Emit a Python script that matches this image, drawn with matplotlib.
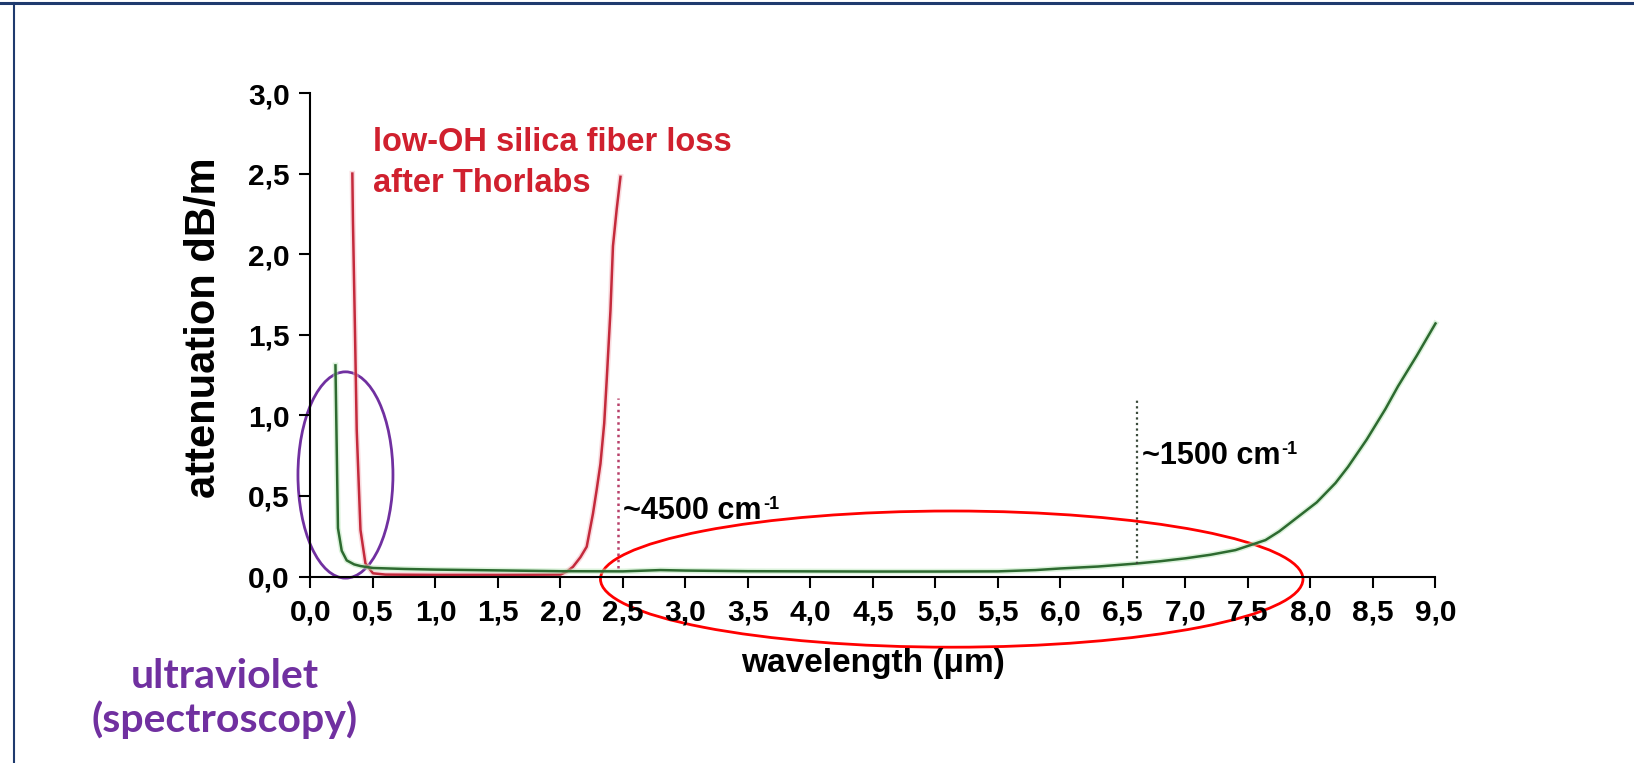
import matplotlib
matplotlib.use("Agg")
import matplotlib.pyplot as plt
import matplotlib.patheffects as pe
from matplotlib.patches import Ellipse
from matplotlib.lines import Line2D


# low-OH silica fibre loss (Thorlabs)
red_wavelength = [0.335, 0.34, 0.356, 0.37, 0.40, 0.44, 0.50, 0.60, 1.0, 1.5,
                  2.0, 2.05, 2.10, 2.16, 2.21, 2.26, 2.29, 2.32, 2.35, 2.37,
                  2.40, 2.42, 2.45, 2.48]
red_loss = [2.50, 2.20, 1.53, 0.91, 0.29, 0.08, 0.02, 0.012, 0.010, 0.010,
            0.012, 0.03, 0.06, 0.12, 0.185, 0.39, 0.54, 0.70, 0.95, 1.22,
            1.65, 2.05, 2.28, 2.48]

# second fibre (green curve)
green_wavelength = [0.20, 0.21, 0.22, 0.25, 0.29, 0.35, 0.40, 0.50, 0.75, 1.0,
                    1.5, 2.0, 2.5, 2.8, 3.0, 3.5, 4.0, 4.5, 5.0, 5.5, 5.8,
                    6.0, 6.3, 6.6, 6.8, 7.0, 7.2, 7.4, 7.64, 7.75, 7.9, 8.05,
                    8.2, 8.3, 8.45, 8.6, 8.7, 8.85, 9.0]
green_loss = [1.31, 0.80, 0.30, 0.16, 0.10, 0.075, 0.065, 0.053, 0.047, 0.043,
              0.038, 0.033, 0.032, 0.040, 0.037, 0.033, 0.032, 0.031, 0.031,
              0.032, 0.040, 0.050, 0.062, 0.080, 0.095, 0.113, 0.135, 0.164,
              0.226, 0.28, 0.37, 0.46, 0.58, 0.68, 0.85, 1.04, 1.18, 1.37,
              1.57]

# dotted markers at the wavenumber limits
marker_x = [2.46, 6.61]
marker_bottom = [0.05, 0.08]
marker_top = [1.11, 1.11]
marker_labels = ["~4500 cm", "~1500 cm"]

x_ticks = [0.0, 0.5, 1.0, 1.5, 2.0, 2.5, 3.0, 3.5, 4.0, 4.5, 5.0, 5.5, 6.0,
           6.5, 7.0, 7.5, 8.0, 8.5, 9.0]
x_tick_labels = ["0,0", "0,5", "1,0", "1,5", "2,0", "2,5", "3,0", "3,5", "4,0",
                 "4,5", "5,0", "5,5", "6,0", "6,5", "7,0", "7,5", "8,0", "8,5",
                 "9,0"]
y_ticks = [0.0, 0.5, 1.0, 1.5, 2.0, 2.5, 3.0]
y_tick_labels = ["0,0", "0,5", "1,0", "1,5", "2,0", "2,5", "3,0"]

RED_LINE = "#c42a3c"
GREEN_LINE = "#2d6a30"
PURPLE = "#7030a0"
FONT = "Liberation Sans"


def main():
    plt.rcParams["font.family"] = [FONT, "DejaVu Sans"]

    fig = plt.figure(figsize=(16.34, 7.63), dpi=100)
    ax = fig.add_axes([0.19, 0.2444, 0.6885, 0.6337])

    ax.plot(red_wavelength, red_loss, color=RED_LINE, lw=1.8, clip_on=False,
            path_effects=[pe.Stroke(linewidth=4, foreground="#f4b8c0", alpha=0.5),
                          pe.Normal()])
    ax.plot(green_wavelength, green_loss, color=GREEN_LINE, lw=1.8, clip_on=False,
            path_effects=[pe.Stroke(linewidth=4, foreground="#b8e6b8", alpha=0.5),
                          pe.Normal()])

    ax.vlines(marker_x[0], marker_bottom[0], marker_top[0], color="#b8406a",
              lw=1.8, linestyles=(0, (1, 1.5)))
    ax.vlines(marker_x[1], marker_bottom[1], marker_top[1], color="#3a4a3a",
              lw=1.6, linestyles=(0, (1, 1.5)))

    label_pos = [(2.50, 0.36), (6.65, 0.70)]
    for (lx, ly), text in zip(label_pos, marker_labels):
        t = ax.text(lx, ly, text, fontsize=22, fontweight="bold",
                    ha="left", va="baseline")
        ax.annotate("-1", xy=(1.0, 1.0), xycoords=t, xytext=(1, 0),
                    textcoords="offset points", fontsize=13,
                    fontweight="bold", ha="left", va="top")

    ax.text(0.50, 2.79, "low-OH silica fiber loss\nafter Thorlabs",
            color="#d0202e", fontsize=23.5, fontweight="bold",
            ha="left", va="top", linespacing=1.43)

    # highlight ellipses
    ax.add_patch(Ellipse((0.28, 0.63), 0.76, 1.28, fill=False,
                         edgecolor=PURPLE, lw=2, clip_on=False))
    ax.add_patch(Ellipse((5.13, -0.016), 5.62, 0.845, fill=False,
                         edgecolor="#ff0000", lw=2, clip_on=False))

    ax.set_xlim(0, 9)
    ax.set_ylim(0, 3)
    ax.set_xticks(x_ticks)
    ax.set_xticklabels(x_tick_labels)
    ax.set_yticks(y_ticks)
    ax.set_yticklabels(y_tick_labels)
    ax.tick_params(axis="x", length=8, width=1.5, pad=8, labelsize=21.5)
    ax.tick_params(axis="y", length=8, width=1.5, pad=7, labelsize=21.5)
    for lbl in ax.get_xticklabels() + ax.get_yticklabels():
        lbl.set_fontweight("bold")

    ax.spines["top"].set_visible(False)
    ax.spines["right"].set_visible(False)
    ax.spines["left"].set_linewidth(1.5)
    ax.spines["bottom"].set_linewidth(1.5)

    ax.set_xlabel("wavelength (\u03bcm)", fontsize=24, fontweight="bold",
                  labelpad=15)
    ax.set_ylabel("attenuation dB/m", fontsize=30, fontweight="bold")
    ax.yaxis.set_label_coords(-0.077, 0.515)

    fig.text(0.1377, 0.085, "ultraviolet\n(spectroscopy)", color=PURPLE,
             fontsize=29.5, fontweight="bold", family=["Lato", "DejaVu Sans"],
             ha="center", va="center", linespacing=1.17)

    # slide frame: top and left edges
    fig.add_artist(Line2D([0, 1], [0.996, 0.996], color="#1f3a6e", lw=2.2))
    fig.add_artist(Line2D([0.0088, 0.0088], [0, 0.996], color="#1f3a6e", lw=1.5))

    fig.savefig("out.png", dpi=100)
    plt.close(fig)


if __name__ == "__main__":
    main()
